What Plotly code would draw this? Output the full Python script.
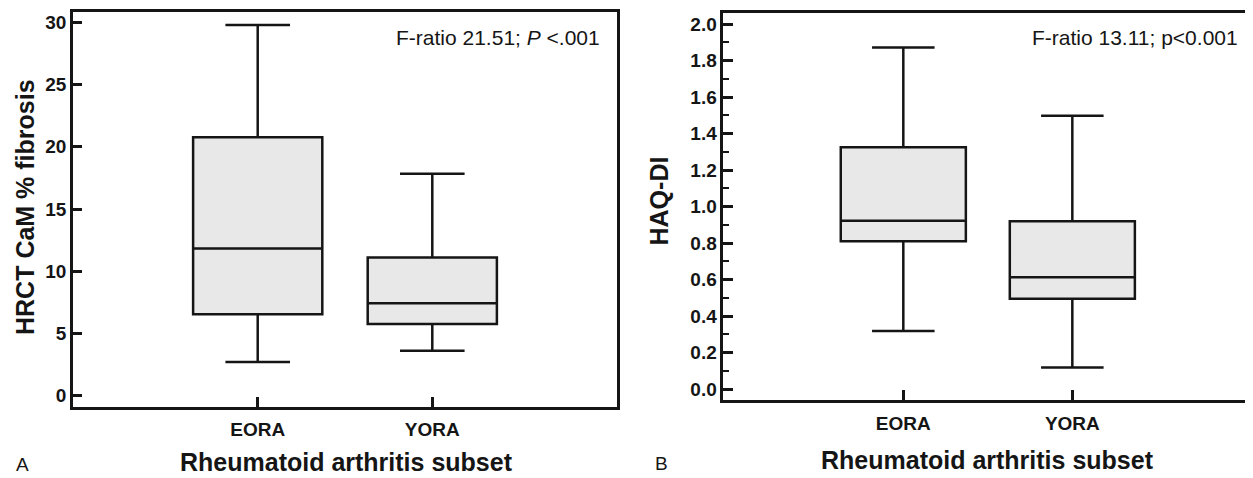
import plotly.graph_objects as go

# page body has an 8px margin; the figure is sized so it ends at the window edge
OFF = 8
W, H = 1253 - OFF, 478 - OFF

categories = ["EORA", "YORA"]

# Panel A: HRCT CaM % fibrosis
a_lower = [2.72, 3.62]
a_q1 = [6.55, 5.77]
a_median = [11.82, 7.43]
a_q3 = [20.76, 11.10]
a_upper = [29.78, 17.84]
a_ticks = [0, 5, 10, 15, 20, 25, 30]

# Panel B: HAQ-DI
b_lower = [0.319, 0.119]
b_q1 = [0.81, 0.496]
b_median = [0.923, 0.613]
b_q3 = [1.325, 0.92]
b_upper = [1.872, 1.498]
b_ticks = [0.0, 0.2, 0.4, 0.6, 0.8, 1.0, 1.2, 1.4, 1.6, 1.8, 2.0]

FONT = "Liberation Sans, Arial, sans-serif"
INK = "#151515"
FILL = "#e8e8e8"


def px(x):
    return (x - OFF) / W


def py(y):
    return 1 - (y - OFF) / H


fig = go.Figure()
box_style = dict(
    fillcolor=FILL,
    line=dict(color=INK, width=2.5),
    whiskerwidth=0.5,
    width=0.74,
    boxpoints=False,
    showlegend=False,
    hoverinfo="skip",
)
fig.add_trace(go.Box(x=categories, q1=a_q1, median=a_median, q3=a_q3,
                     lowerfence=a_lower, upperfence=a_upper,
                     xaxis="x", yaxis="y", **box_style))
fig.add_trace(go.Box(x=categories, q1=b_q1, median=b_median, q3=b_q3,
                     lowerfence=b_lower, upperfence=b_upper,
                     xaxis="x2", yaxis="y2", **box_style))

axis_common = dict(
    showline=True, linecolor=INK, linewidth=2.5, mirror=True,
    showgrid=False, zeroline=False,
    ticks="inside", tickcolor=INK, tickwidth=2.5, ticklen=10,
    tickfont=dict(family=FONT, size=19, color=INK, weight="bold"),
)

fig.update_layout(
    width=W, height=H,
    margin=dict(l=0, r=0, t=0, b=0),
    paper_bgcolor="white", plot_bgcolor="white",
    font=dict(family=FONT, color=INK),
    xaxis=dict(domain=[px(73), px(617)], anchor="y", type="category",
               range=[-1.058, 2.058], ticklabelstandoff=4, **axis_common),
    yaxis=dict(domain=[py(406.7), py(11.7)], anchor="x",
               range=[-0.88, 30.85], tickvals=a_ticks, ticklen=9,
               **{k: v for k, v in axis_common.items() if k != "ticklen"}),
    xaxis2=dict(domain=[px(723.3), px(1251.5)], anchor="y2", type="category",
                range=[-1.065, 2.06], ticklabelstandoff=4, **axis_common),
    yaxis2=dict(domain=[py(400), py(13.3)], anchor="x2",
                range=[-0.059, 2.059], tickvals=b_ticks, tickformat=".1f",
                minor=dict(dtick=0.1, ticks="inside", ticklen=6, tickwidth=2, tickcolor=INK),
                **axis_common),
)

ann = []
# axis titles
ann.append(dict(x=px(25), y=py(207), text="<b>HRCT CaM % fibrosis</b>", textangle=-90,
                font=dict(family=FONT, size=25, color=INK)))
ann.append(dict(x=px(658), y=py(201.5), text="<b>HAQ-DI</b>", textangle=-90,
                font=dict(family=FONT, size=25, color=INK)))
ann.append(dict(x=px(346.7), y=py(462), text="<b>Rheumatoid arthritis subset</b>",
                font=dict(family=FONT, size=25, color=INK)))
ann.append(dict(x=px(987.5), y=py(460), text="<b>Rheumatoid arthritis subset</b>",
                font=dict(family=FONT, size=25, color=INK)))
# panel letters
ann.append(dict(x=px(22.5), y=py(464), text="A", font=dict(family=FONT, size=19, color=INK)))
ann.append(dict(x=px(661), y=py(463), text="B", font=dict(family=FONT, size=19, color=INK)))
# stats
ann.append(dict(x=px(602), y=py(37), xanchor="right", text="F-ratio 21.51; <i>P</i> &lt;.001",
                font=dict(family=FONT, size=21, color=INK)))
ann.append(dict(x=px(1240), y=py(38), xanchor="right", text="F-ratio 13.11; p&lt;0.001",
                font=dict(family=FONT, size=21, color=INK)))

for a in ann:
    a.setdefault("xanchor", "center")
    a.update(xref="paper", yref="paper", yanchor="middle", showarrow=False)
fig.update_layout(annotations=ann)

fig.write_html("out.html")
